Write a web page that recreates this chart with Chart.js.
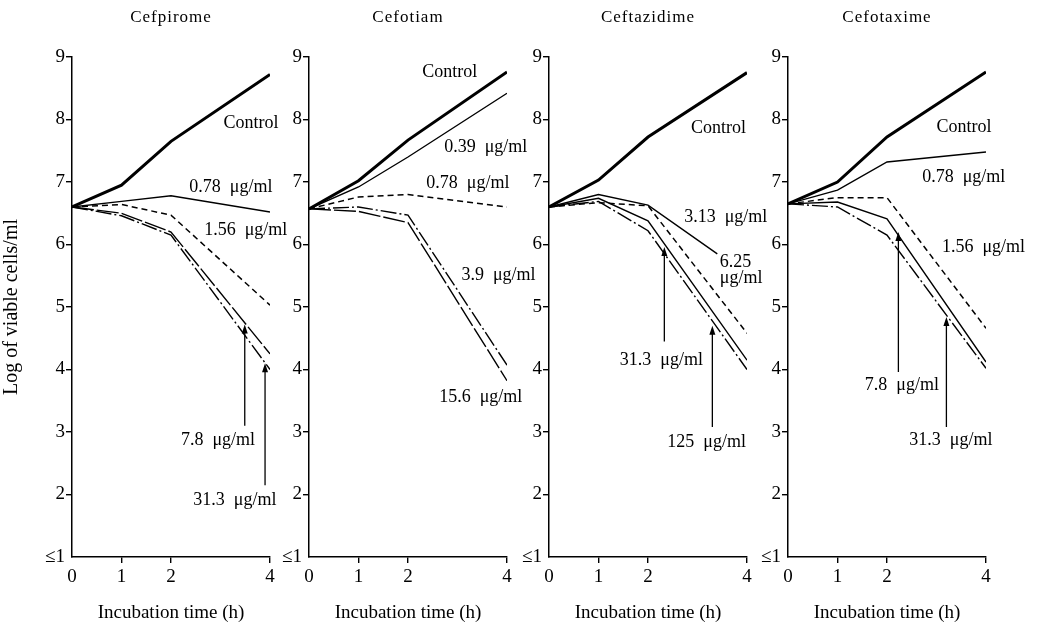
<!DOCTYPE html>
<html lang="en">
<head>
<meta charset="UTF-8">
<title>Viable cells vs incubation time</title>
<script src="https://cdn.jsdelivr.net/npm/chart.js@4"></script>
<style>
  body { margin: 0; background: #fff; }
  #wrap { position: relative; width: 1037px; height: 629px; overflow: hidden; }
  #wrap canvas { position: absolute; top: 0; }
</style>
</head>
<body>
<div id="wrap">
  <canvas id="c0"></canvas>
  <canvas id="c1"></canvas>
  <canvas id="c2"></canvas>
  <canvas id="c3"></canvas>
</div>
<script>
// ---- data (log viable cells/ml vs hours) ----
const times = [0, 1, 2, 4];
const times313short = [0, 1, 2, 3.4];
const xTicks = [0, 1, 2, 4];
const yTicks = [1, 2, 3, 4, 5, 6, 7, 8, 9];
const drugs = ['Cefpirome', 'Cefotiam', 'Ceftazidime', 'Cefotaxime'];

const cefpiromeControl = [6.6, 6.95, 7.65, 8.72];
const cefpirome078 = [6.6, 6.69, 6.78, 6.52];
const cefpirome156 = [6.6, 6.64, 6.47, 5.03];
const cefpirome78 = [6.6, 6.5, 6.2, 4.25];
const cefpirome313 = [6.6, 6.46, 6.15, 4.0];

const cefotiamControl = [6.57, 7.02, 7.67, 8.76];
const cefotiam039 = [6.57, 6.92, 7.4, 8.42];
const cefotiam078 = [6.57, 6.76, 6.8, 6.6];
const cefotiam39 = [6.57, 6.6, 6.47, 4.07];
const cefotiam156 = [6.57, 6.53, 6.35, 3.82];

const ceftazControl = [6.6, 7.03, 7.72, 8.75];
const ceftaz313 = [6.6, 6.8, 6.63, 5.85];
const ceftaz625 = [6.6, 6.67, 6.62, 4.58];
const ceftaz313b = [6.6, 6.74, 6.38, 4.15];
const ceftaz125 = [6.6, 6.69, 6.22, 4.0];

const cefotaxControl = [6.65, 7.0, 7.72, 8.76];
const cefotax078 = [6.65, 6.87, 7.32, 7.48];
const cefotax156 = [6.65, 6.75, 6.75, 4.66];
const cefotax78 = [6.65, 6.68, 6.41, 4.12];
const cefotax313 = [6.65, 6.6, 6.15, 4.02];

// ---- line styles ----
const styles = {
  control: { borderWidth: 3, borderDash: [] },
  solid: { borderWidth: 1.4, borderDash: [] },
  dashed: { borderWidth: 1.5, borderDash: [6, 4] },
  dashdot: { borderWidth: 1.4, borderDash: [16, 3, 2, 3] },
  longdash: { borderWidth: 1.4, borderDash: [22, 3] }
};

const panels = [
  {
    series: [
      [cefpiromeControl, 'control'], [cefpirome078, 'solid'], [cefpirome156, 'dashed'],
      [cefpirome78, 'longdash'], [cefpirome313, 'dashdot']
    ],
    labels: [
      ['Control', 3.06, 7.94], ['0.78  μg/ml', 2.37, 6.92], ['1.56  μg/ml', 2.67, 6.23],
      ['7.8  μg/ml', 2.2, 2.87], ['31.3  μg/ml', 2.45, 1.91]
    ],
    arrows: [[3.49, 3.1, 4.72], [3.9, 2.15, 4.1]]
  },
  {
    series: [
      [cefotiamControl, 'control'], [cefotiam039, 'solid'], [cefotiam078, 'dashed'],
      [cefotiam39, 'dashdot'], [cefotiam156, 'longdash']
    ],
    labels: [
      ['Control', 2.29, 8.76], ['0.39  μg/ml', 2.73, 7.56], ['0.78  μg/ml', 2.37, 6.98],
      ['3.9  μg/ml', 3.08, 5.51], ['15.6  μg/ml', 2.63, 3.56]
    ],
    arrows: []
  },
  {
    series: [
      [ceftazControl, 'control'], [ceftaz313, 'solid', times313short], [ceftaz625, 'dashed'],
      [ceftaz313b, 'solid'], [ceftaz125, 'dashdot']
    ],
    labels: [
      ['Control', 2.87, 7.86], ['3.13  μg/ml', 2.73, 6.44], ['6.25', 3.45, 5.72],
      ['μg/ml', 3.45, 5.46], ['31.3  μg/ml', 1.43, 4.15], ['125  μg/ml', 2.39, 2.84]
    ],
    arrows: [[2.33, 4.45, 5.96], [3.3, 3.08, 4.7]]
  },
  {
    series: [
      [cefotaxControl, 'control'], [cefotax078, 'solid'], [cefotax156, 'dashed'],
      [cefotax78, 'solid'], [cefotax313, 'dashdot']
    ],
    labels: [
      ['Control', 3.0, 7.88], ['0.78  μg/ml', 2.71, 7.08], ['1.56  μg/ml', 3.11, 5.96],
      ['7.8  μg/ml', 1.55, 3.75], ['31.3  μg/ml', 2.45, 2.87]
    ],
    arrows: [[2.23, 3.96, 6.2], [3.2, 3.08, 4.84]]
  }
];

// ---- layout ----
const plotLeft = [72, 309, 549, 788];
const plotWidth = 198;
const axisW = [72, 42, 42, 42];
const padRight = 24;
const extraW = 50;
const H = 629;
const FONT = '"Liberation Serif", "DejaVu Serif", serif';

function drawNotes(chart, p, title) {
  const { ctx, chartArea, scales: { x, y } } = chart;
  ctx.save();
  ctx.fillStyle = '#000';
  ctx.strokeStyle = '#000';
  ctx.textBaseline = 'middle';
  ctx.font = '17px ' + FONT;
  ctx.textAlign = 'center';
  ctx.letterSpacing = '1px';
  ctx.fillText(title, (chartArea.left + chartArea.right) / 2, 18);
  ctx.letterSpacing = '0px';
  ctx.font = '18px ' + FONT;
  ctx.textAlign = 'left';
  p.labels.forEach(l => ctx.fillText(l[0], x.getPixelForValue(l[1]), y.getPixelForValue(l[2])));
  ctx.lineWidth = 1.3;
  p.arrows.forEach(a => {
    const px = x.getPixelForValue(a[0]);
    const y0 = y.getPixelForValue(a[1]);
    const y1 = y.getPixelForValue(a[2]);
    ctx.beginPath();
    ctx.moveTo(px, y0);
    ctx.lineTo(px, y1 + 4);
    ctx.stroke();
    ctx.beginPath();
    ctx.moveTo(px, y1);
    ctx.lineTo(px - 3, y1 + 9);
    ctx.lineTo(px + 3, y1 + 9);
    ctx.closePath();
    ctx.fill();
  });
  ctx.restore();
}

panels.forEach((p, i) => {
  const canvas = document.getElementById('c' + i);
  const w = axisW[i] + plotWidth + padRight + extraW;
  canvas.width = w;
  canvas.height = H;
  canvas.style.left = (plotLeft[i] - axisW[i]) + 'px';
  canvas.style.width = w + 'px';
  canvas.style.height = H + 'px';

  const datasets = p.series.map(s => Object.assign({
    data: (s[2] || times).map((t, k) => ({ x: t, y: s[0][k] })),
    borderColor: '#000',
    pointRadius: 0,
    tension: 0,
    fill: false
  }, styles[s[1]]));

  new Chart(canvas, {
    type: 'line',
    data: { datasets: datasets },
    options: {
      responsive: false,
      animation: false,
      events: [],
      layout: { padding: { top: 57, right: padRight + extraW, bottom: 0, left: 0 } },
      plugins: { legend: { display: false }, tooltip: { enabled: false } },
      scales: {
        x: {
          type: 'linear',
          min: 0,
          max: 4,
          afterBuildTicks: s => { s.ticks = xTicks.map(v => ({ value: v })); },
          afterFit: s => { s.height = 72; },
          border: { color: '#000', width: 1.5 },
          grid: {
            drawOnChartArea: false,
            drawTicks: true,
            tickLength: 6,
            lineWidth: 1.4,
            color: c => (c.tick && c.tick.value === 0) ? 'rgba(0,0,0,0)' : '#000'
          },
          ticks: { color: '#000', padding: 3, maxRotation: 0, font: { family: FONT, size: 19 } },
          title: {
            display: true,
            text: 'Incubation time (h)',
            color: '#000',
            font: { family: FONT, size: 19 },
            padding: { top: 0, bottom: 5 }
          }
        },
        y: {
          type: 'linear',
          min: 1,
          max: 9,
          afterBuildTicks: s => { s.ticks = yTicks.map(v => ({ value: v })); },
          afterFit: s => { s.width = axisW[i]; },
          border: { color: '#000', width: 1.5 },
          grid: {
            drawOnChartArea: false,
            drawTicks: true,
            tickLength: 6,
            lineWidth: 1.4,
            color: c => (c.tick && c.tick.value === 1) ? 'rgba(0,0,0,0)' : '#000'
          },
          ticks: {
            color: '#000',
            padding: 1,
            font: { family: FONT, size: 19 },
            callback: v => v === 1 ? '≤1' : v
          },
          title: {
            display: i === 0,
            text: 'Log of viable cells/ml',
            color: '#000',
            font: { family: FONT, size: 20 },
            padding: { top: 0, bottom: 0 }
          }
        }
      }
    },
    plugins: [{ id: 'notes', afterDatasetsDraw: chart => drawNotes(chart, p, drugs[i]) }]
  });
});
</script>
</body>
</html>
